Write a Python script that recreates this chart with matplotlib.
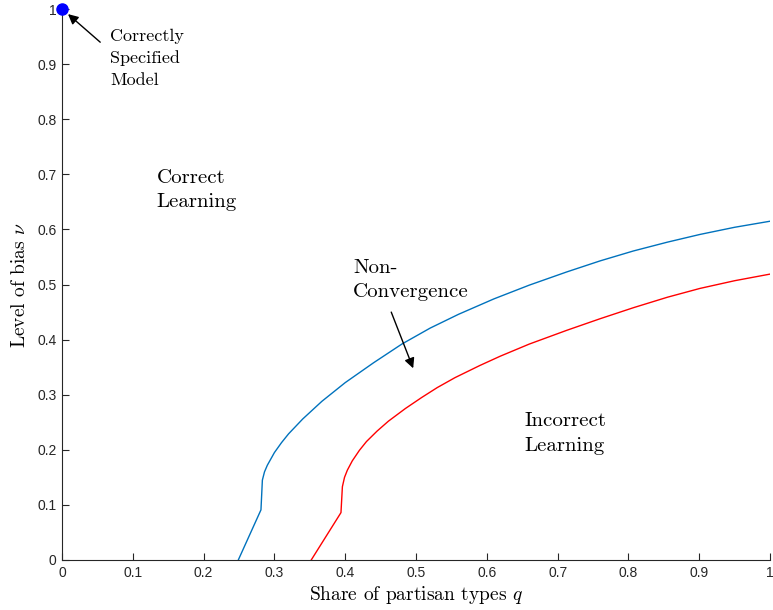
import numpy as np
import matplotlib.pyplot as plt

plt.rcParams['mathtext.fontset'] = 'cm'
plt.rcParams['axes.unicode_minus'] = False

# threshold curves
q_blue = [0.249, 0.281, 0.283, 0.286, 0.290, 0.300, 0.310, 0.320, 0.340, 0.367, 0.400, 0.440,
          0.480, 0.520, 0.560, 0.610, 0.660, 0.713, 0.760, 0.807, 0.855, 0.901, 0.950, 1.0]
nu_blue = [0.0, 0.091, 0.145, 0.160, 0.172, 0.195, 0.213, 0.229, 0.256, 0.288, 0.322, 0.358,
           0.392, 0.421, 0.446, 0.474, 0.499, 0.523, 0.543, 0.561, 0.577, 0.591, 0.604, 0.615]

q_red = [0.352, 0.394, 0.396, 0.399, 0.403, 0.410, 0.420, 0.430, 0.445, 0.461, 0.485, 0.508,
         0.530, 0.555, 0.590, 0.619, 0.660, 0.713, 0.760, 0.807, 0.855, 0.901, 0.950, 1.0]
nu_red = [0.0, 0.086, 0.133, 0.150, 0.163, 0.180, 0.199, 0.215, 0.234, 0.252, 0.275, 0.295,
          0.313, 0.331, 0.353, 0.370, 0.392, 0.417, 0.438, 0.458, 0.477, 0.493, 0.507, 0.519]

xticks = np.round(np.arange(0, 1.01, 0.1), 1)
xtick_labels = ["0", "0.1", "0.2", "0.3", "0.4", "0.5", "0.6", "0.7", "0.8", "0.9", "1"]

fig = plt.figure(figsize=(7.73, 6.10), dpi=100)
ax = fig.add_axes([0.0802, 0.082, 0.916, 0.903])

ax.plot(q_blue, nu_blue, color='#0072BD', lw=1)
ax.plot(q_red, nu_red, color='#FF0000', lw=1)
ax.plot([0], [1], 'o', color='#0000FF', markersize=8, clip_on=False, zorder=5)

ax.set_xlim(0, 1)
ax.set_ylim(0, 1)
ax.set_xticks(xticks)
ax.set_xticklabels(xtick_labels)
ax.set_yticks(xticks)
ax.set_yticklabels(xtick_labels)
for lab in ax.get_xticklabels() + ax.get_yticklabels():
    lab.set_fontfamily('Liberation Sans')
    lab.set_fontsize(10)
    lab.set_color('#262626')

ax.tick_params(direction='in', length=5, width=0.8, color='#262626', pad=4)
ax.spines['top'].set_visible(False)
ax.spines['right'].set_visible(False)
ax.spines['left'].set_color('#262626')
ax.spines['bottom'].set_color('#262626')

ax.set_xlabel(r'Share of partisan types $q$', fontfamily='cmr10', fontsize=14, labelpad=3)
ax.set_ylabel(r'Level of bias $\nu$', fontfamily='cmr10', fontsize=14, labelpad=6)

arrow = dict(arrowstyle='-|>', color='k', lw=1, mutation_scale=15, shrinkA=0, shrinkB=0)

ax.annotate('', xy=(0.0085, 0.991), xytext=(0.054, 0.940), arrowprops=arrow,
            annotation_clip=False)
ax.text(0.068, 0.911, 'Correctly\nSpecified\nModel', fontfamily='cmr10', fontsize=13,
        ha='left', va='center', linespacing=1.5)

ax.annotate('', xy=(0.496, 0.348), xytext=(0.465, 0.450), arrowprops=arrow)
ax.text(0.411, 0.508, 'Non-\nConvergence', fontfamily='cmr10', fontsize=15,
        ha='left', va='center', linespacing=1.45)

ax.text(0.134, 0.672, 'Correct\nLearning', fontfamily='cmr10', fontsize=15,
        ha='left', va='center', linespacing=1.45)
ax.text(0.653, 0.2296, 'Incorrect\nLearning', fontfamily='cmr10', fontsize=15,
        ha='left', va='center', linespacing=1.45)

fig.savefig('out.png', dpi=100)
